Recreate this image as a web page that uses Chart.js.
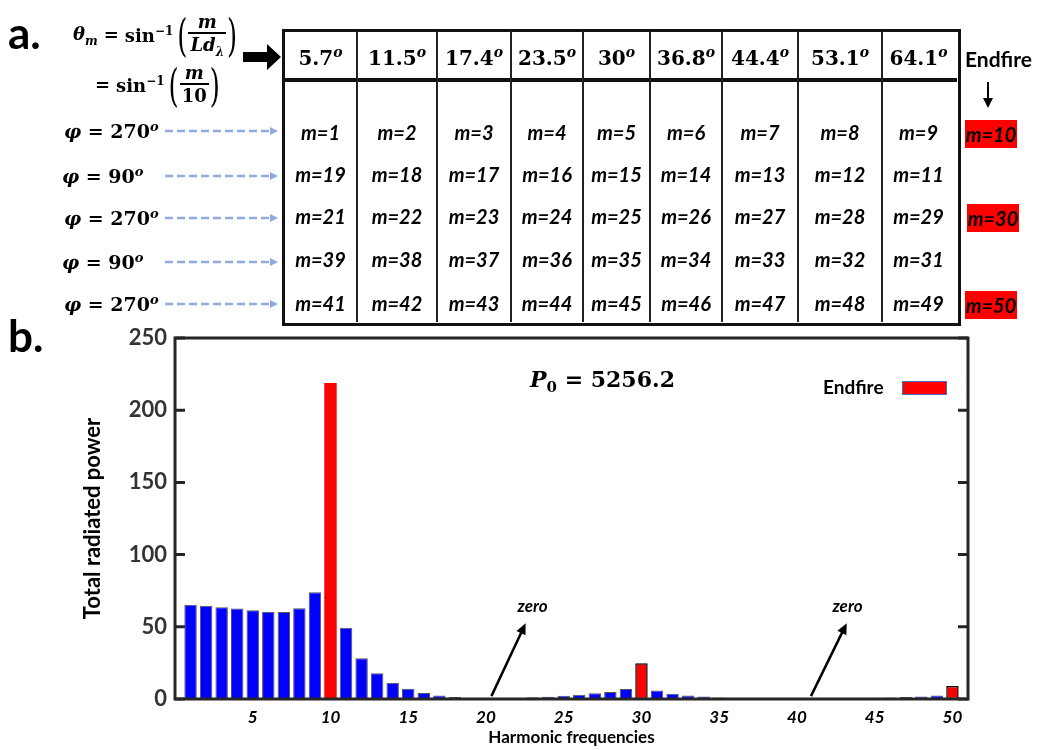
<!DOCTYPE html>
<html lang="en">
<head>
<meta charset="UTF-8">
<title>Total radiated power vs harmonic frequencies</title>
<script src="https://cdn.jsdelivr.net/npm/chart.js@4.4.1/dist/chart.umd.min.js"></script>
<style>
    html, body { margin: 0; padding: 0; background: #fff; }
    #page { position: relative; width: 1041px; height: 750px; overflow: hidden; font-family: Lato, 'Open Sans', sans-serif; color: #000; }
    #powerChart { position: absolute; left: 0; top: 0; }
    .abs { position: absolute; white-space: nowrap; }
    .panel { font-weight: bold; font-size: 44px; line-height: 1; }
    .math { font-family: 'DejaVu Serif', serif; font-weight: bold; }
    .mi { font-style: italic; }
    .formula { position: absolute; display: flex; align-items: center; font-family: 'DejaVu Serif', serif; font-weight: bold; font-size: 18px; white-space: nowrap; line-height: 1; }
    .formula sup, .formula sub { font-size: 12px; }
    .frac { display: flex; flex-direction: column; align-items: stretch; text-align: center; }
    .frac > span { display: block; padding: 0 2px; }
    .frac .num { border-bottom: 2px solid #000; padding-bottom: 1px; }
    .frac .den { padding-top: 2px; }
    .paren { display: inline-block; font-weight: normal; font-size: 26px; transform: scaleY(1.75); margin: 0 1px; }
    .mcell { font-weight: bold; font-style: italic; font-size: 20px; line-height: 1; text-align: center; }
    .angle { font-family: 'DejaVu Serif', serif; font-weight: bold; font-size: 20px; line-height: 1; text-align: center; }
    .angle sup { font-style: italic; font-size: 14px; }
    .redbox { background: #ff0000; font-weight: bold; font-style: italic; font-size: 20px; line-height: 28px; height: 28px; width: 52px; text-align: center; }
    .phi { font-family: 'DejaVu Serif', serif; font-weight: bold; font-size: 19px; line-height: 1; }
    .phi sup { font-size: 13px; font-style: italic; }
</style>
</head>
<body>
<div id="page">
    <canvas id="powerChart" width="1041" height="750"></canvas>

    <div class="abs panel" style="left:8px; top:10px;">a.</div>
    <div class="abs panel" style="left:8px; top:313px;">b.</div>

    <!-- formula for the angle of harmonic m -->
    <div class="formula" style="left:73px; top:13px;">
        <span><span class="mi">θ</span><sub class="mi">m</sub></span>
        <span style="margin:0 6px;">=</span>
        <span>sin<sup>−1</sup></span>
        <span class="paren" style="margin-left:4px;">(</span>
        <span class="frac"><span class="num mi">m</span><span class="den"><span class="mi">Ld</span><sub class="mi">λ</sub></span></span>
        <span class="paren">)</span>
    </div>
    <div class="formula" style="left:95px; top:64px;">
        <span style="margin-right:6px;">=</span>
        <span>sin<sup>−1</sup></span>
        <span class="paren" style="margin-left:4px;">(</span>
        <span class="frac"><span class="num mi">m</span><span class="den">10</span></span>
        <span class="paren">)</span>
    </div>

    <svg class="abs" style="left:0; top:0;" width="1041" height="330">
        <polygon points="243,52 267,52 267,44 281,57 267,70 267,62 243,62" fill="#000"/>
        <line x1="988" y1="82" x2="988" y2="100" stroke="#000" stroke-width="2"/>
        <polygon points="983,98 993,98 988,108" fill="#000"/>
        <g id="phiArrows"></g>
    </svg>

    <div id="table"></div>

    <div class="abs math" style="left:530px; top:368px; font-size:22px; line-height:1;">
        <span class="mi">P</span><sub style="font-size:15px;">0</sub> = 5256.2
    </div>
    <div class="abs" style="left:823px; top:376px; font-weight:bold; font-size:19px; line-height:22px;">Endfire</div>
    <div class="abs" style="left:902px; top:381px; width:43px; height:12px; background:#ff0000; border:1px solid #4472c4;"></div>
</div>

<script>
    // chart data
    const harmonics = [1, 2, 3, 4, 5, 6, 7, 8, 9, 10,
        11, 12, 13, 14, 15, 16, 17, 18, 19, 20,
        21, 22, 23, 24, 25, 26, 27, 28, 29, 30,
        31, 32, 33, 34, 35, 36, 37, 38, 39, 40,
        41, 42, 43, 44, 45, 46, 47, 48, 49, 50];
    const power = [65.2, 64.6, 63.5, 62.6, 61.4, 60.5, 60.3, 62.8, 73.9, 218.8,
        49.4, 28.2, 17.8, 11.3, 7.1, 4.2, 2.5, 1.3, 0.6, 0,
        0.3, 0.5, 1.2, 1.6, 2.3, 3.0, 3.9, 4.8, 6.9, 24.7,
        5.8, 3.7, 2.5, 1.8, 1.1, 0.6, 0.3, 0.1, 0, 0,
        0.1, 0.2, 0.3, 0.5, 0.8, 1.0, 1.3, 1.8, 2.4, 9.0];
    const endfireHarmonics = [10, 30, 50];
    const xTickValues = [5, 10, 15, 20, 25, 30, 35, 40, 45, 50];
    const yTickValues = [0, 50, 100, 150, 200, 250];

    // table data
    const angles = ['5.7', '11.5', '17.4', '23.5', '30', '36.8', '44.4', '53.1', '64.1'];
    const mRows = [
        [1, 2, 3, 4, 5, 6, 7, 8, 9],
        [19, 18, 17, 16, 15, 14, 13, 12, 11],
        [21, 22, 23, 24, 25, 26, 27, 28, 29],
        [39, 38, 37, 36, 35, 34, 33, 32, 31],
        [41, 42, 43, 44, 45, 46, 47, 48, 49]
    ];
    const phiValues = ['270', '90', '270', '90', '270'];
    const endfireCells = [10, null, 30, null, 50];

    // table layout
    const tableLeft = 284, tableTop = 31, tableRight = 957, tableBottom = 322, headerLine = 80;
    const colWidths = [73, 80, 74, 72, 67, 72, 76, 84, 73];
    const rowY = [133, 175, 217, 260, 304];
    const phiY = [131, 176, 218, 262, 304];

    function addDiv(cls, style, html) {
        var d = document.createElement('div');
        d.className = 'abs ' + cls;
        d.setAttribute('style', style);
        d.innerHTML = html;
        document.getElementById('table').appendChild(d);
        return d;
    }

    // frame of the table
    addDiv('', `left:${tableLeft - 2}px; top:${tableTop - 2}px; width:${tableRight - tableLeft}px; height:${tableBottom - tableTop}px; border:3px solid #111;`, '');
    addDiv('', `left:${tableLeft}px; top:${headerLine - 2}px; width:${tableRight - tableLeft}px; height:4px; background:#111;`, '');

    var x = tableLeft;
    colWidths.forEach(function (w, i) {
        if (i > 0) {
            addDiv('', `left:${x - 1}px; top:${tableTop}px; width:2px; height:${tableBottom - tableTop}px; background:#222;`, '');
        }
        addDiv('angle', `left:${x}px; top:${56 - 11}px; width:${w}px;`, `${angles[i]}<sup>o</sup>`);
        mRows.forEach(function (row, r) {
            addDiv('mcell', `left:${x}px; top:${rowY[r] - 11}px; width:${w}px;`, `m=${row[i]}`);
        });
        x += w;
    });

    addDiv('', 'left:965px; top:47px; font-weight:bold; font-size:21px; line-height:24px;', 'Endfire');
    endfireCells.forEach(function (m, r) {
        if (m !== null) {
            addDiv('redbox', `left:${r === 2 ? 967 : 965}px; top:${rowY[r] - 13}px;`, `m=${m}`);
        }
    });

    // phi labels with dashed arrows
    var phiArrows = document.getElementById('phiArrows');
    phiValues.forEach(function (p, r) {
        addDiv('phi', `left:${p === '90' ? 62 : 64}px; top:${phiY[r] - 11}px;`, `<span class="mi">φ</span> = ${p}<sup>o</sup>`);
        var y = phiY[r];
        phiArrows.insertAdjacentHTML('beforeend',
            `<line x1="165" y1="${y}" x2="270" y2="${y}" stroke="#8faadc" stroke-width="2.5" stroke-dasharray="8 4"/>` +
            `<polygon points="270,${y - 4} 278,${y} 270,${y + 4}" fill="#8faadc"/>`);
    });

    // plot frame with inward ticks on both sides
    const framePlugin = {
        id: 'frame',
        afterDraw(chart) {
            const {ctx, chartArea: a, scales: {y}} = chart;
            ctx.save();
            ctx.strokeStyle = '#262626';
            ctx.lineWidth = 3;
            ctx.strokeRect(a.left, a.top, a.right - a.left, a.bottom - a.top);
            ctx.beginPath();
            yTickValues.forEach(function (v) {
                var py = y.getPixelForValue(v);
                ctx.moveTo(a.left, py);
                ctx.lineTo(a.left + 10, py);
                ctx.moveTo(a.right, py);
                ctx.lineTo(a.right - 10, py);
            });
            ctx.stroke();
            ctx.restore();
        }
    };

    // "zero" notes pointing at the empty harmonics
    const notesPlugin = {
        id: 'notes',
        afterDatasetsDraw(chart, args, opts) {
            const {ctx, scales: {x, y}} = chart;
            ctx.save();
            opts.items.forEach(function (n) {
                var x1 = x.getPixelForValue(n.from[0]), y1 = y.getPixelForValue(n.from[1]);
                var x2 = x.getPixelForValue(n.to[0]), y2 = y.getPixelForValue(n.to[1]);
                var ang = Math.atan2(y2 - y1, x2 - x1);
                ctx.strokeStyle = '#000';
                ctx.fillStyle = '#000';
                ctx.lineWidth = 2.5;
                ctx.beginPath();
                ctx.moveTo(x1, y1);
                ctx.lineTo(x2 - 8 * Math.cos(ang), y2 - 8 * Math.sin(ang));
                ctx.stroke();
                ctx.beginPath();
                ctx.moveTo(x2, y2);
                ctx.lineTo(x2 - 11 * Math.cos(ang) + 5 * Math.sin(ang), y2 - 11 * Math.sin(ang) - 5 * Math.cos(ang));
                ctx.lineTo(x2 - 11 * Math.cos(ang) - 5 * Math.sin(ang), y2 - 11 * Math.sin(ang) + 5 * Math.cos(ang));
                ctx.closePath();
                ctx.fill();
                ctx.font = 'italic bold 17px Lato, sans-serif';
                ctx.textAlign = 'center';
                ctx.textBaseline = 'middle';
                ctx.fillText(n.label, x.getPixelForValue(n.labelAt[0]), y.getPixelForValue(n.labelAt[1]));
            });
            ctx.restore();
        }
    };

    var ctx = document.getElementById('powerChart').getContext('2d');
    var chart = new Chart(ctx, {
        type: 'bar',
        data: {
            datasets: [{
                label: 'Total radiated power',
                data: harmonics.map((h, i) => ({x: h, y: power[i]})),
                backgroundColor: harmonics.map(h => endfireHarmonics.includes(h) ? '#ff0000' : '#0000ff'),
                borderColor: harmonics.map(h => endfireHarmonics.includes(h) ? '#000000' : '#555555'),
                borderWidth: harmonics.map(h => h === 10 ? 0 : (endfireHarmonics.includes(h) ? 1.5 : 1)),
                borderSkipped: false,
                barPercentage: 0.8,
                categoryPercentage: 1.0
            }]
        },
        options: {
            responsive: false,
            animation: false,
            layout: {padding: {top: 338, right: 73, left: 0, bottom: 0}},
            plugins: {
                legend: {display: false},
                tooltip: {enabled: false},
                notes: {
                    items: [
                        {from: [20.35, 2], to: [22.55, 52.5], label: 'zero', labelAt: [23.0, 64]},
                        {from: [40.9, 2], to: [43.2, 52.5], label: 'zero', labelAt: [43.25, 64]}
                    ]
                }
            },
            scales: {
                x: {
                    type: 'linear',
                    offset: false,
                    min: 0,
                    max: 51,
                    grid: {display: false, drawTicks: false, offset: false},
                    border: {display: false},
                    afterBuildTicks: function (scale) {
                        scale.ticks = xTickValues.map(v => ({value: v}));
                    },
                    afterFit: function (scale) { scale.height = 51; },
                    ticks: {
                        padding: 8,
                        color: '#000',
                        font: {family: 'Lato', size: 17, weight: 'bold', style: 'italic'}
                    },
                    title: {
                        display: true,
                        text: 'Harmonic frequencies',
                        color: '#000',
                        padding: {top: 0, bottom: 2},
                        font: {family: 'Lato', size: 17, weight: 'bold'}
                    }
                },
                y: {
                    min: 0,
                    max: 250,
                    grid: {display: false, drawTicks: false},
                    border: {display: false},
                    afterBuildTicks: function (scale) {
                        scale.ticks = yTickValues.map(v => ({value: v}));
                    },
                    afterFit: function (scale) { scale.width = 175; },
                    ticks: {
                        padding: 8,
                        color: '#333',
                        font: {family: 'Lato', size: 22, weight: 'bold'}
                    },
                    title: {
                        display: true,
                        text: 'Total radiated power',
                        color: '#000',
                        padding: {top: 80, bottom: 0},
                        font: {family: 'Lato', size: 22, weight: 'bold'}
                    }
                }
            }
        },
        plugins: [notesPlugin, framePlugin]
    });
</script>
</body>
</html>
